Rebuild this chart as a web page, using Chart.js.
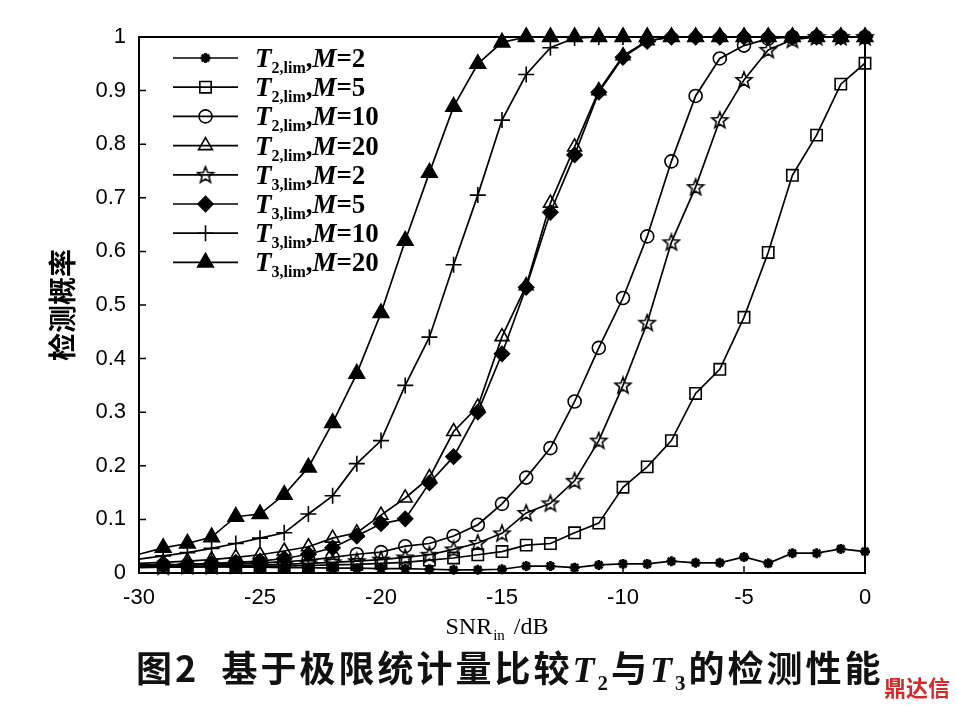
<!DOCTYPE html>
<html>
<head>
<meta charset="utf-8">
<script src="https://cdn.jsdelivr.net/npm/chart.js@4.4.1/dist/chart.umd.min.js"></script>
<style>
  html, body { margin: 0; padding: 0; background: #fff; }
  #wrap { position: relative; width: 957px; height: 710px; }
  #caption {
    position: absolute; left: 136px; top: 640px; white-space: nowrap;
    font-family: "Noto Sans CJK SC", sans-serif; font-weight: 700; font-size: 36px;
    letter-spacing: 3px; color: #111;
  }
  #caption i { font-family: "Liberation Serif", serif; font-weight: 700; }
  #caption sub { font-family: "Liberation Serif", serif; font-size: 21px; font-weight: 700; }
  #mark {
    position: absolute; left: 884px; top: 670px; color: #d42a2a;
    font-family: "Noto Sans CJK SC", sans-serif; font-weight: 700; font-size: 22px;
  }
</style>
</head>
<body>
<div id="wrap">
  <canvas id="chart"></canvas>
  <div id="caption">图2&nbsp;&nbsp;基于极限统计量比较<i>T</i><sub>2</sub>与<i>T</i><sub>3</sub>的检测性能</div>
  <div id="mark">鼎达信</div>
</div>
<script>
// 数据
const snr = [-30, -29, -28, -27, -26, -25, -24, -23, -22, -21, -20, -19, -18, -17, -16, -15,
             -14, -13, -12, -11, -10, -9, -8, -7, -6, -5, -4, -3, -2, -1, 0];

const t2m2 = [0.012, 0.012, 0.011, 0.012, 0.011, 0.011, 0.010, 0.010, 0.009, 0.009, 0.008, 0.008, 0.007, 0.006, 0.006, 0.007,
              0.013, 0.013, 0.010, 0.015, 0.017, 0.017, 0.022, 0.019, 0.019, 0.030, 0.018, 0.037, 0.037, 0.045, 0.040];
const t2m5 = [0.010, 0.011, 0.011, 0.012, 0.012, 0.013, 0.013, 0.014, 0.015, 0.016, 0.018, 0.020, 0.024, 0.028, 0.034, 0.040,
              0.052, 0.055, 0.075, 0.093, 0.160, 0.198, 0.247, 0.335, 0.380, 0.477, 0.598, 0.742, 0.817, 0.912, 0.951];
const t2m10 = [0.014, 0.015, 0.015, 0.016, 0.017, 0.019, 0.021, 0.024, 0.029, 0.035, 0.039, 0.050, 0.055, 0.069, 0.090, 0.129,
               0.178, 0.233, 0.320, 0.420, 0.513, 0.628, 0.768, 0.890, 0.960, 0.984, 0.997, 1, 1, 1, 1];
const t2m20 = [0.018, 0.020, 0.022, 0.025, 0.029, 0.034, 0.041, 0.049, 0.065, 0.075, 0.108, 0.140, 0.178, 0.264, 0.310, 0.441,
               0.536, 0.690, 0.795, 0.900, 0.965, 0.993, 1, 1, 1, 1, 1, 1, 1, 1, 1];
const t3m2 = [0.012, 0.012, 0.013, 0.013, 0.014, 0.015, 0.016, 0.018, 0.020, 0.022, 0.025, 0.029, 0.034, 0.044, 0.056, 0.074,
              0.112, 0.130, 0.172, 0.247, 0.350, 0.467, 0.617, 0.720, 0.845, 0.920, 0.976, 0.995, 1, 1, 1];
const t3m5 = [0.015, 0.015, 0.016, 0.018, 0.020, 0.022, 0.027, 0.035, 0.047, 0.069, 0.092, 0.101, 0.168, 0.217, 0.300, 0.409,
              0.533, 0.673, 0.780, 0.897, 0.962, 0.992, 1, 1, 1, 1, 1, 1, 1, 1, 1];
const t3m10 = [0.026, 0.032, 0.038, 0.046, 0.055, 0.065, 0.075, 0.110, 0.144, 0.204, 0.247, 0.350, 0.440, 0.575, 0.705, 0.845,
               0.930, 0.980, 0.998, 1, 1, 1, 1, 1, 1, 1, 1, 1, 1, 1, 1];
const t3m20 = [0.035, 0.047, 0.055, 0.067, 0.105, 0.110, 0.146, 0.197, 0.280, 0.372, 0.485, 0.620, 0.747, 0.870, 0.950, 0.990,
               1, 1, 1, 1, 1, 1, 1, 1, 1, 1, 1, 1, 1, 1, 1];

const xTicks = [-30, -25, -20, -15, -10, -5, 0];
const yTicks = [0, 0.1, 0.2, 0.3, 0.4, 0.5, 0.6, 0.7, 0.8, 0.9, 1];

// 空心五角星标记
function makeStar() {
  const c = document.createElement('canvas');
  c.width = 20; c.height = 20;
  const g = c.getContext('2d');
  g.strokeStyle = '#000'; g.lineWidth = 1.6;
  g.beginPath();
  for (let k = 0; k < 10; k++) {
    const r = k % 2 === 0 ? 8.5 : 3.6;
    const a = -Math.PI / 2 + k * Math.PI / 5;
    const px = 10 + r * Math.cos(a), py = 10.5 + r * Math.sin(a);
    if (k === 0) g.moveTo(px, py); else g.lineTo(px, py);
  }
  g.closePath();
  g.stroke();
  return c;
}
const starImg = makeStar();

const series = [
  { name: ['2', '2'],  vals: t2m2,  style: 'star',      r: 5,   fill: '#000',          bw: 2.8 },
  { name: ['2', '5'],  vals: t2m5,  style: 'rect',      r: 8,   fill: 'rgba(0,0,0,0)', bw: 1.6 },
  { name: ['2', '10'], vals: t2m10, style: 'circle',    r: 6.5, fill: 'rgba(0,0,0,0)', bw: 1.6 },
  { name: ['2', '20'], vals: t2m20, style: 'triangle',  r: 8,   fill: 'rgba(0,0,0,0)', bw: 1.6 },
  { name: ['3', '2'],  vals: t3m2,  style: starImg,     r: 8,   fill: 'rgba(0,0,0,0)', bw: 1.6 },
  { name: ['3', '5'],  vals: t3m5,  style: 'rectRot',   r: 7.5, fill: '#000',          bw: 1.6 },
  { name: ['3', '10'], vals: t3m10, style: 'cross',     r: 8,   fill: '#000',          bw: 1.6 },
  { name: ['3', '20'], vals: t3m20, style: 'triangle',  r: 9,   fill: '#000',          bw: 1.6 }
];

const datasets = series.map(s => ({
  label: 'T' + s.name[0] + ',lim,M=' + s.name[1],
  data: snr.map((x, i) => ({ x: x, y: s.vals[i] })),
  borderColor: '#000',
  borderWidth: 1.7,
  pointStyle: s.style,
  pointRadius: ctx => (ctx.dataIndex === 0 ? 0 : s.r),
  pointBackgroundColor: s.fill,
  pointBorderColor: '#000',
  pointBorderWidth: s.bw,
  tension: 0,
  clip: false
}));

// 图例、刻度、边框、x 轴标题
const decor = {
  id: 'decor',
  afterDraw(chart) {
    const ctx = chart.ctx;
    const a = chart.chartArea;
    const xs = chart.scales.x, ys = chart.scales.y;
    ctx.save();
    ctx.strokeStyle = '#000';
    ctx.lineWidth = 2;
    ctx.strokeRect(a.left, a.top, a.right - a.left, a.bottom - a.top);

    ctx.lineWidth = 1.5;
    ctx.beginPath();
    xTicks.forEach(v => {
      const px = xs.getPixelForValue(v);
      ctx.moveTo(px, a.bottom); ctx.lineTo(px, a.bottom - 7);
    });
    yTicks.forEach(v => {
      const py = ys.getPixelForValue(v);
      ctx.moveTo(a.left, py); ctx.lineTo(a.left + 7, py);
    });
    ctx.stroke();

    // x 轴标题 SNR_in /dB
    ctx.fillStyle = '#000';
    ctx.textBaseline = 'alphabetic';
    const big = '24px "Liberation Serif"', small = '15px "Liberation Serif"';
    ctx.font = big;
    const w1 = ctx.measureText('SNR').width;
    const w3 = ctx.measureText(' /dB').width;
    ctx.font = small;
    const w2 = ctx.measureText('in').width;
    let tx = (a.left + a.right) / 2 - 5 - (w1 + w2 + w3 + 4) / 2;
    const ty = 634;
    ctx.font = big; ctx.fillText('SNR', tx, ty); tx += w1 + 1;
    ctx.font = small; ctx.fillText('in', tx, ty + 6); tx += w2 + 3;
    ctx.font = big; ctx.fillText(' /dB', tx, ty);

    // 图例
    const helpers = Chart.helpers;
    series.forEach((s, i) => {
      const y = 58 + i * 29.2;
      ctx.strokeStyle = '#000';
      ctx.lineWidth = 1.7;
      ctx.beginPath(); ctx.moveTo(173, y); ctx.lineTo(238, y); ctx.stroke();
      ctx.fillStyle = s.fill;
      ctx.lineWidth = s.bw;
      if (helpers && helpers.drawPoint) {
        helpers.drawPoint(ctx, { pointStyle: s.style, radius: s.r, borderWidth: s.bw, rotation: 0 }, 205.5, y);
      }
      ctx.fillStyle = '#000';
      let lx = 255;
      const by = y + 9;
      const parts = [
        ['italic bold 27px "Liberation Serif"', 'T', 0],
        ['bold 16px "Liberation Serif"', s.name[0] + ',lim', 6],
        ['bold 27px "Liberation Serif"', ',', 0],
        ['italic bold 27px "Liberation Serif"', 'M', 0],
        ['bold 27px "Liberation Serif"', '=' + s.name[1], 0]
      ];
      parts.forEach(p => {
        ctx.font = p[0];
        ctx.fillText(p[1], lx, by + p[2]);
        lx += ctx.measureText(p[1]).width;
      });
    });
    ctx.restore();
  }
};

new Chart(document.getElementById('chart'), {
  type: 'line',
  data: { datasets: datasets },
  options: {
    responsive: true,
    maintainAspectRatio: false,
    animation: false,
    events: [],
    layout: { padding: { left: 0, top: 37, right: 92, bottom: 77 } },
    plugins: { legend: { display: false }, tooltip: { enabled: false } },
    scales: {
      x: {
        type: 'linear', min: -30, max: 0,
        afterFit: sc => { sc.height = 60; },
        afterBuildTicks: sc => { sc.ticks = xTicks.map(v => ({ value: v })); },
        grid: { display: false, drawTicks: false },
        border: { display: false },
        ticks: { color: '#000', padding: 12, font: { family: '"Liberation Sans"', size: 22 } }
      },
      y: {
        type: 'linear', min: 0, max: 1,
        afterFit: sc => { sc.width = 139; },
        afterBuildTicks: sc => { sc.ticks = yTicks.map(v => ({ value: v })); },
        grid: { display: false, drawTicks: false },
        border: { display: false },
        ticks: {
          color: '#000', padding: 13, font: { family: '"Liberation Sans"', size: 22 },
          callback: v => String(v)
        },
        title: {
          display: true, text: '检测概率', color: '#000',
          padding: { top: 46, bottom: 0 },
          font: { family: '"Noto Sans CJK SC"', size: 28, weight: '700' }
        }
      }
    }
  },
  plugins: [decor]
});
</script>
</body>
</html>
